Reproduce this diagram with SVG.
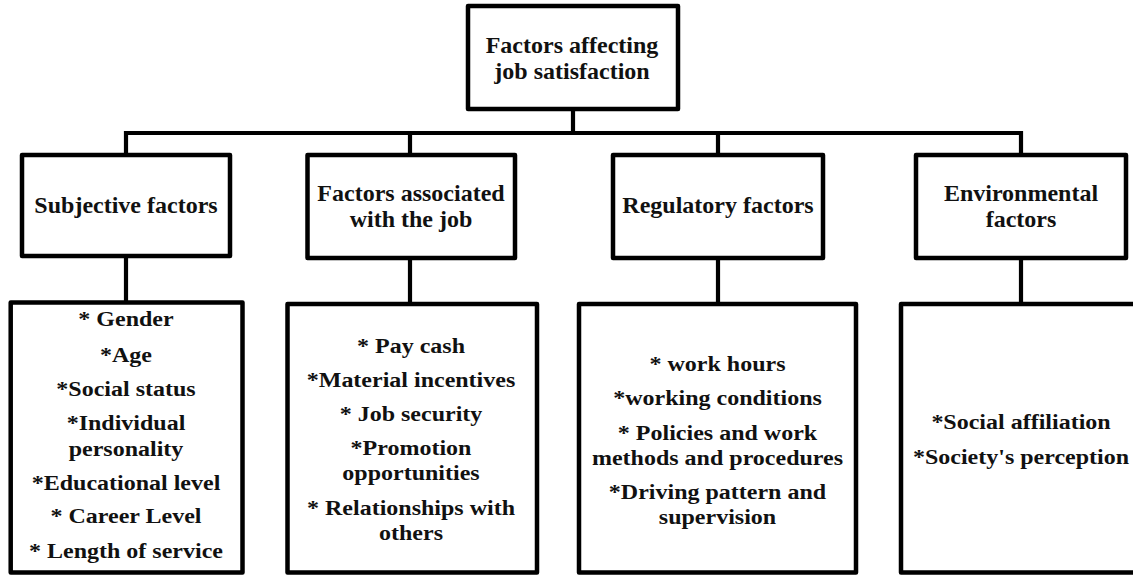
<svg xmlns="http://www.w3.org/2000/svg" width="1133" height="575" viewBox="0 0 1133 575">
<style>
.box{fill:#fff;stroke:#000;stroke-width:4.5;stroke-linejoin:round}
.ln{fill:none;stroke:#000;stroke-width:4.2;stroke-linecap:square}
text{font-family:'Liberation Serif','Times New Roman',serif;font-weight:700;font-size:24px;fill:#111;text-anchor:middle}
</style>
<rect width="1133" height="575" fill="#fff"/>
<g id="connectors">
<path class="ln" d="M573 111V133M126 133H1021M126 133V153M410 133V153M718 133V153M1021 133V153"/>
<path class="ln" d="M126 258V301M410 258V302M718 258V302M1021 258V302"/>
</g>
<g id="root">
<rect class="box" x="468" y="6" width="210" height="103"/>
<text x="572" y="52.5">Factors affecting</text>
<text x="572" y="78.5">job satisfaction</text>
</g>
<g id="subjective">
<rect class="box" x="22" y="155" width="208" height="101"/>
<text x="126" y="212.5">Subjective factors</text>
</g>
<g id="job">
<rect class="box" x="307.5" y="155" width="207.5" height="103"/>
<text x="411" y="201">Factors associated</text>
<text x="411" y="227">with the job</text>
</g>
<g id="regulatory">
<rect class="box" x="613" y="155" width="210" height="103"/>
<text x="718" y="213">Regulatory factors</text>
</g>
<g id="environmental">
<rect class="box" x="916" y="155" width="210" height="103"/>
<text x="1021" y="201">Environmental</text>
<text x="1021" y="227">factors</text>
</g>
<g id="subjective-items">
<rect class="box" x="10.7" y="302.5" width="231.8" height="270"/>
<text transform="translate(126,326) scale(1,.87)">* Gender</text>
<text transform="translate(126,361.5) scale(1,.87)">*Age</text>
<text transform="translate(126,396) scale(1,.87)">*Social status</text>
<text transform="translate(126,430) scale(1,.87)">*Individual</text>
<text transform="translate(126,455.5) scale(1,.87)">personality</text>
<text transform="translate(126,489.5) scale(1,.87)">*Educational level</text>
<text transform="translate(126,523) scale(1,.87)">* Career Level</text>
<text transform="translate(126,558) scale(1,.87)">* Length of service</text>
</g>
<g id="job-items">
<rect class="box" x="287.5" y="304" width="249.5" height="268.5"/>
<text transform="translate(411,352.5) scale(1,.87)">* Pay cash</text>
<text transform="translate(411,386.5) scale(1,.87)">*Material incentives</text>
<text transform="translate(411,420.5) scale(1,.87)">* Job security</text>
<text transform="translate(411,455) scale(1,.87)">*Promotion</text>
<text transform="translate(411,480) scale(1,.87)">opportunities</text>
<text transform="translate(411,515) scale(1,.87)">* Relationships with</text>
<text transform="translate(411,540) scale(1,.87)">others</text>
</g>
<g id="regulatory-items">
<rect class="box" x="579" y="304" width="277" height="268.5"/>
<text transform="translate(717.5,370.5) scale(1,.87)">* work hours</text>
<text transform="translate(717.5,405) scale(1,.87)">*working conditions</text>
<text transform="translate(717.5,439.5) scale(1,.87)">* Policies and work</text>
<text transform="translate(717.5,465) scale(1,.87)">methods and procedures</text>
<text transform="translate(717.5,498.5) scale(1,.87)">*Driving pattern and</text>
<text transform="translate(717.5,523.5) scale(1,.87)">supervision</text>
</g>
<g id="environmental-items">
<rect class="box" x="901" y="304" width="240" height="268.5"/>
<text transform="translate(1021,428.5) scale(1,.87)">*Social affiliation</text>
<text transform="translate(1021,463.5) scale(1,.87)">*Society's perception</text>
</g>
</svg>
